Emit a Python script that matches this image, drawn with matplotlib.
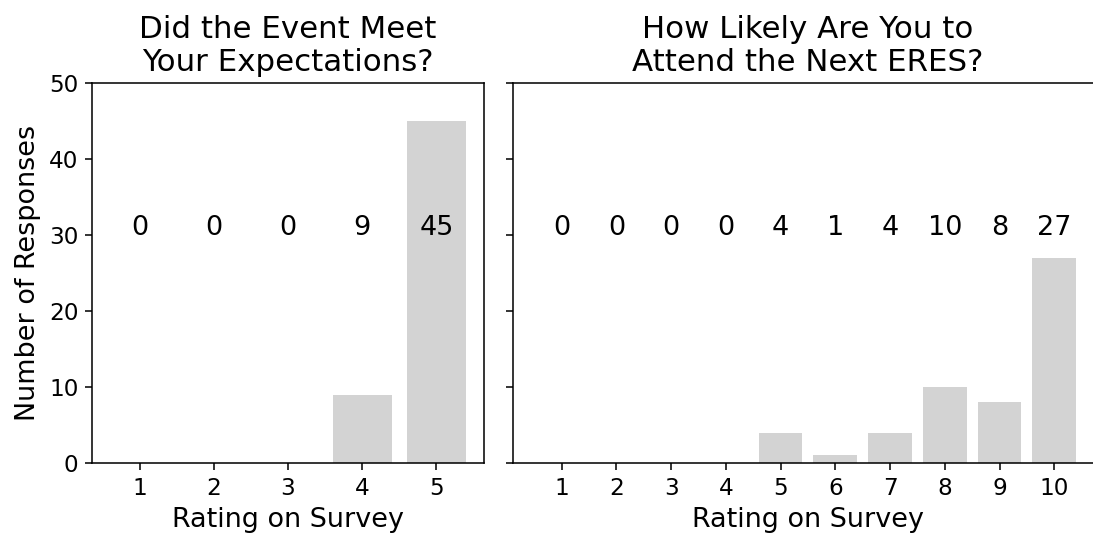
import matplotlib
matplotlib.use('Agg')
import matplotlib.pyplot as plt

# survey results
ratings_expect = [1, 2, 3, 4, 5]
counts_expect = [0, 0, 0, 9, 45]
ratings_attend = [1, 2, 3, 4, 5, 6, 7, 8, 9, 10]
counts_attend = [0, 0, 0, 0, 4, 1, 4, 10, 8, 27]

titles = ['Did the Event Meet\nYour Expectations?',
          'How Likely Are You to\nAttend the Next ERES?']

if __name__ == '__main__':
    dpi = 139
    fig = plt.figure(figsize=(1093 / dpi, 533 / dpi), dpi=dpi)
    ax1 = fig.add_axes([0.0842, 0.1313, 0.3586, 0.713])
    ax2 = fig.add_axes([0.4693, 0.1313, 0.5398, 0.713], sharey=ax1)

    for ax, x, y, title in [(ax1, ratings_expect, counts_expect, titles[0]),
                            (ax2, ratings_attend, counts_attend, titles[1])]:
        ax.bar(x, y, color='lightgray')
        for xi, yi in zip(x, y):
            ax.text(xi, 30, str(yi), ha='center', va='baseline', fontsize=14)
        ax.set_xticks(x)
        ax.set_title(title, fontsize=16)
        ax.set_xlabel('Rating on Survey', fontsize=14)
        ax.tick_params(labelsize=12)

    ax1.set_ylim(0, 50)
    ax1.set_ylabel('Number of Responses', fontsize=14)
    ax2.tick_params(labelleft=False)

    fig.savefig('out.png', dpi=dpi)
